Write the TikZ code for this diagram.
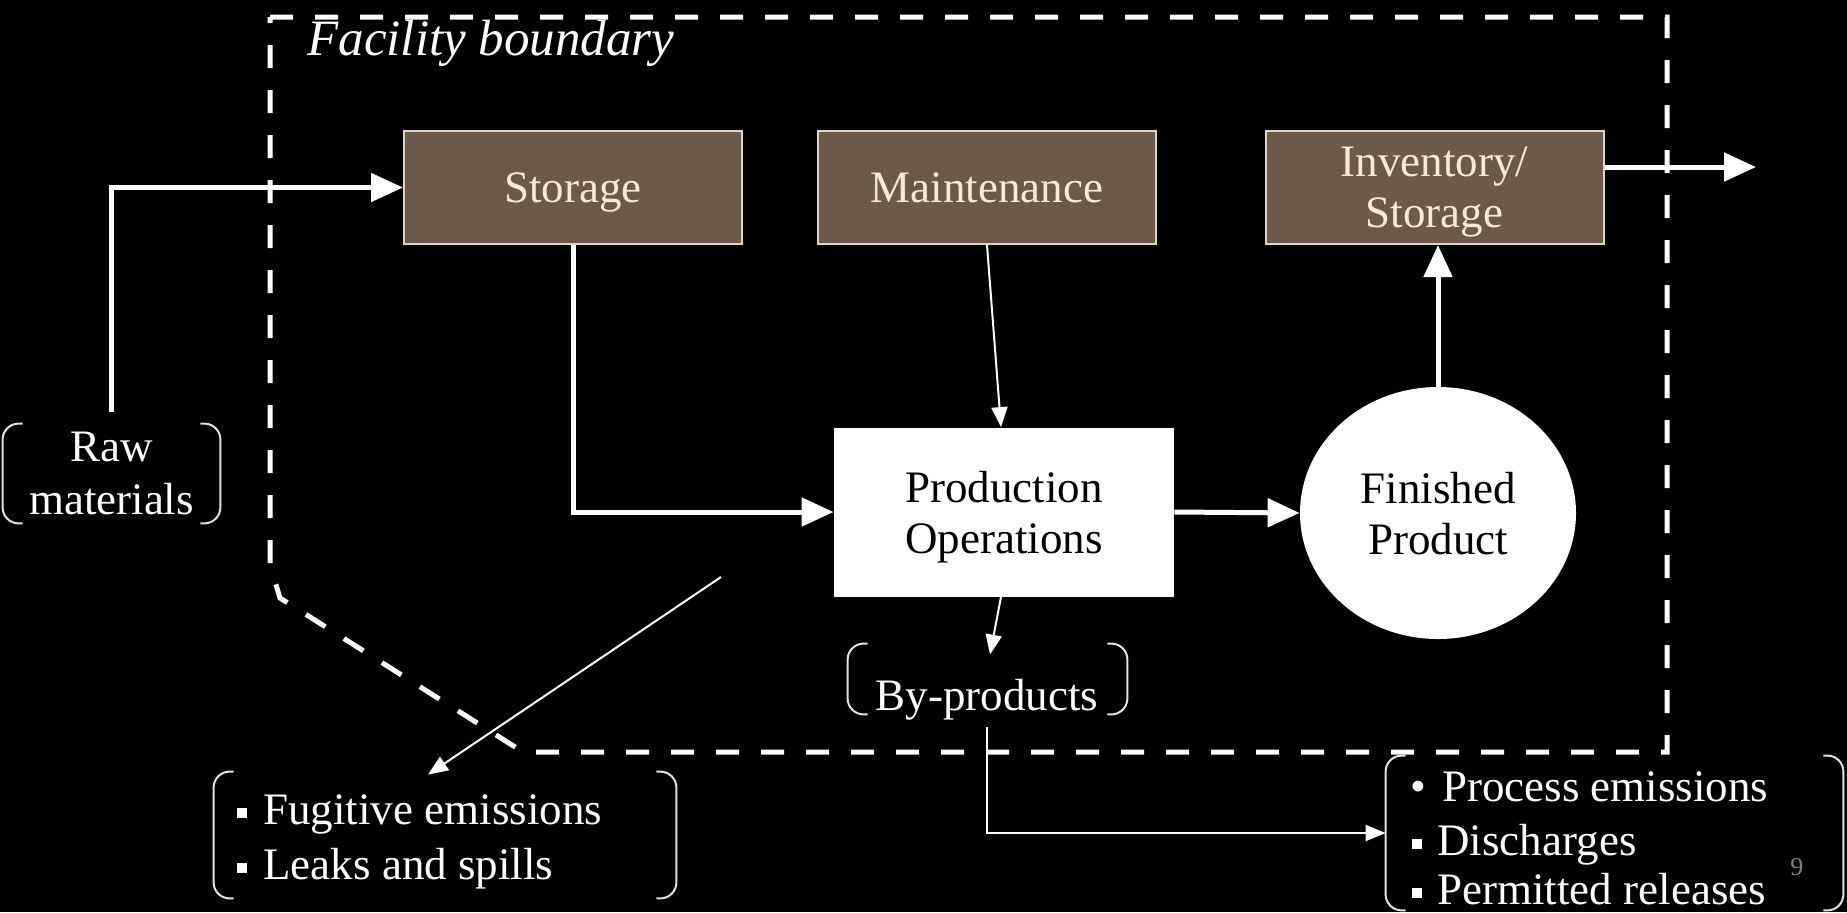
\documentclass[tikz,border=0pt]{standalone}
\usepackage{fontspec}
\setmainfont{Liberation Serif}
\usetikzlibrary{arrows.meta,shapes.geometric}
\definecolor{boxbrown}{RGB}{107,90,73}
\definecolor{cream}{RGB}{242,236,214}
\definecolor{brkgray}{RGB}{225,225,225}
\newcommand\fs{\fontsize{22.5pt}{25.5pt}\selectfont}
\newcommand\sqb{\rule[3pt]{5pt}{5pt}}
\newcommand\drawbrk[1]{%
  \draw[brk] ([xshift=10pt]#1.north west) -- (#1.north west) -- (#1.south west) -- ([xshift=10pt]#1.south west);
  \draw[brk] ([xshift=-10pt]#1.north east) -- (#1.north east) -- (#1.south east) -- ([xshift=-10pt]#1.south east);}
\tikzset{
  brownbox/.style={draw=cream!85!boxbrown, line width=1pt, fill=boxbrown, text=cream,
    minimum width=169pt, minimum height=56.5pt, inner sep=0pt, align=center, font=\fs, text depth=0pt},
  whitebox/.style={fill=white, text=black, inner sep=0pt, align=center, font=\fs, text depth=0pt},
  brkarea/.style={inner sep=0pt, text=white, align=center, font=\fs},
  brk/.style={draw=brkgray, line width=1pt, rounded corners=8pt},
  txt/.style={inner sep=0pt, text=white, font=\fs},
  thickarrow/.style={draw=white, line width=2.5pt, -{Triangle[length=16pt,width=14pt]}},
  thinarrow/.style={draw=white, line width=1pt, -{Triangle[length=10pt,width=8pt]}},
  boundary/.style={draw=white, line width=2.5pt, dash pattern=on 11.5pt off 11pt}
}
\begin{document}
\begin{tikzpicture}[x=0.5pt,y=-0.5pt]
\useasboundingbox (0,0) rectangle (1847,912);
\fill[black] (0,0) rectangle (1847,912);

% facility boundary
\draw[boundary] (270,17) -- (1667,17) -- (1667,752) -- (523,752) -- (280,598) -- (270,565) -- cycle;
\node[txt, anchor=base west, font=\fontsize{25.5pt}{28pt}\selectfont\itshape] (fb) at (307,55) {Facility boundary};

% boxes
\node[brownbox] (storage) at (573,187.5) {Storage};
\node[brownbox] (maint) at (987,187.5) {Maintenance};
\node[brownbox] (inv) at (1434.5,187.5) {Inventory/\\Storage};
\node[whitebox, minimum width=170pt, minimum height=84.5pt] (prod) at (1004,512) {Production\\Operations};
\node[whitebox, ellipse, minimum width=138pt, minimum height=126pt] (fin) at (1438,513) {Finished\\Product};

% bracketed groups
\node[brkarea, minimum width=108.5pt, minimum height=49.5pt, font=\fontsize{22.5pt}{26.5pt}\selectfont] (raw) at (111.5,473.5) {Raw\\materials};
\drawbrk{raw}

\node[brkarea, minimum width=139.5pt, minimum height=35pt] (byb) at (987.5,679) {};
\drawbrk{byb}
\node[txt, anchor=base] (byp) at (987,710) {By-products};

\node[brkarea, minimum width=231pt, minimum height=63pt] (fug) at (445,835) {};
\drawbrk{fug}
\node[txt, anchor=base west] (fug1) at (237,824) {\sqb\hspace{8pt}Fugitive emissions};
\node[txt, anchor=base west] (fug2) at (237,879) {\sqb\hspace{8pt}Leaks and spills};

\node[brkarea, minimum width=228.5pt, minimum height=77pt] (proc) at (1614.5,833) {};
\drawbrk{proc}
\node[txt, anchor=base west] (pe1) at (1410,801) {\textbullet\hspace{8pt}Process emissions};
\node[txt, anchor=base west] (pe2) at (1412,855) {\sqb\hspace{7.5pt}Discharges};
\node[txt, anchor=base west] (pe3) at (1412,904) {\sqb\hspace{7.5pt}Permitted releases};

\node[inner sep=0pt, anchor=base west, text=gray, font=\fontsize{13pt}{13pt}\selectfont] (pnum) at (1790,875) {9};

% connectors
\draw[thickarrow] ([yshift=6pt]raw.north) |- (storage.west);
\draw[thickarrow] (storage.south) |- (prod.west);
\draw[thickarrow] (prod.east) -- (fin.west);
\draw[thickarrow] (fin.north) -- (fin.north |- inv.south);
\coordinate (outend) at (1756,167);
\draw[thickarrow] (inv.east |- outend) -- (outend);
\draw[thinarrow] (maint.south) -- ([xshift=-1.5pt]prod.north);
\draw[thinarrow] ([xshift=-1.5pt]prod.south) -- ([xshift=1.25pt,yshift=-5.5pt]byb.north);
\draw[thinarrow] ([yshift=-3.5pt]byp.south) |- (proc.west);
\coordinate (fstart) at (721,577);
\draw[thinarrow] (fstart) -- ([xshift=-8.5pt,yshift=-1.5pt]fug.north);
\end{tikzpicture}
\end{document}
